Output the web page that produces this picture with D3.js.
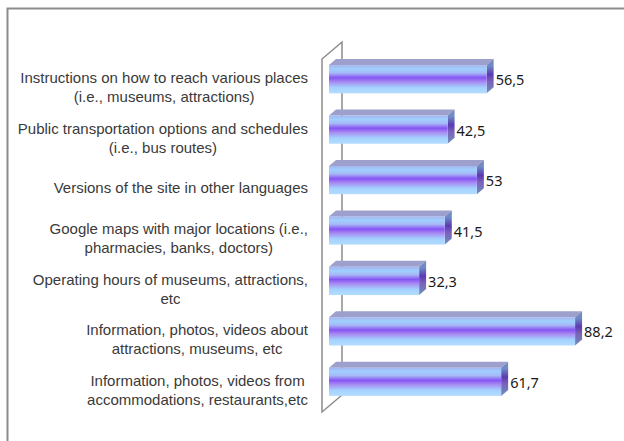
<!DOCTYPE html>
<html>
<head>
<meta charset="utf-8">
<script src="https://cdn.jsdelivr.net/npm/d3@7"></script>
<style>
  body { margin: 0; background: #fff; }
  svg { display: block; }
</style>
</head>
<body>
<div id="chart"></div>
<script>
// category labels (one entry per line) and values, top to bottom
var categories = [
  ["Instructions on how to reach various places", "(i.e., museums, attractions)"],
  ["Public transportation options and schedules", "(i.e., bus routes)"],
  ["Versions of the site in other languages"],
  ["Google maps with major locations (i.e.,", "pharmacies, banks, doctors)"],
  ["Operating hours of museums, attractions,", "etc"],
  ["Information, photos, videos about", "attractions, museums, etc"],
  ["Information, photos, videos from", "accommodations, restaurants,etc"]
];
var values = [56.5, 42.5, 53, 41.5, 32.3, 88.2, 61.7];
var ids = d3.range(categories.length);

var width = 624, height = 441;
var depthX = 7, depthY = -6;

var svg = d3.select("#chart")
  .append("svg")
    .attr("width", width)
    .attr("height", height);

var defs = svg.append("defs");

// front face gradient
var gFront = defs.append("linearGradient")
  .attr("id", "front").attr("x1", 0).attr("y1", 0).attr("x2", 0).attr("y2", 1);
[[0, "#a6b4ee"], [0.14, "#9fd0ff"], [0.28, "#a7b8f6"], [0.45, "#8654f4"], [0.6, "#a88cf2"],
 [0.8, "#a4d2ff"], [1, "#b4dcff"]].forEach(function(s) {
  gFront.append("stop").attr("offset", s[0]).attr("stop-color", s[1]);
});

// side face gradient
var gSide = defs.append("linearGradient")
  .attr("id", "side").attr("x1", 0).attr("y1", 0).attr("x2", 0).attr("y2", 1);
[[0, "#7a86c0"], [0.2, "#6e8cc4"], [0.45, "#5a3ab0"], [0.65, "#7a62bc"], [1, "#6f8fb8"]].forEach(function(s) {
  gSide.append("stop").attr("offset", s[0]).attr("stop-color", s[1]);
});

// frame
svg.append("path")
  .attr("d", "M7.5,441 L7.5,8.5 L624,8.5")
  .style("fill", "none")
  .style("stroke", "#8c8c8c")
  .style("stroke-width", 2);

// scales
var y = d3.scaleBand()
  .domain(ids)
  .range([54, 407])
  .paddingInner(0.44)
  .paddingOuter(0.22);

var x = d3.scaleLinear()
  .domain([0, 100])
  .range([329, 608]);

// side wall (category axis plane)
var wallTop = y.range()[0] + 5, wallBottom = y.range()[1] + 5;
var wx0 = 322, wx1 = 342, wdy = -17;
svg.append("path")
  .attr("d", "M" + wx0 + "," + wallBottom + " L" + wx0 + "," + wallTop +
             " L" + wx1 + "," + (wallTop + wdy) + " L" + wx1 + "," + (wallBottom + wdy) + " Z")
  .style("fill", "#fff")
  .style("stroke", "#8c8c8c")
  .style("stroke-width", 1.5);

// bars
var bars = svg.append("g")
  .selectAll("g")
  .data(ids)
  .enter()
  .append("g");

bars.append("path")   // top face
  .attr("d", function(i) {
    var x0 = x(0), x1 = x(values[i]), t = y(i);
    return "M" + x0 + "," + t + " L" + (x0 + depthX) + "," + (t + depthY) +
           " L" + (x1 + depthX) + "," + (t + depthY) + " L" + x1 + "," + t + " Z";
  })
  .style("fill", "#9d9fcc");

bars.append("path")   // side face
  .attr("d", function(i) {
    var x1 = x(values[i]), t = y(i), b = t + y.bandwidth();
    return "M" + x1 + "," + t + " L" + (x1 + depthX) + "," + (t + depthY) +
           " L" + (x1 + depthX) + "," + (b + depthY) + " L" + x1 + "," + b + " Z";
  })
  .style("fill", "url(#side)");

bars.append("rect")   // front face
  .attr("x", x(0))
  .attr("y", function(i) { return y(i); })
  .attr("width", function(i) { return x(values[i]) - x(0); })
  .attr("height", y.bandwidth())
  .style("fill", "url(#front)");

// value labels
svg.append("g")
  .selectAll("text")
  .data(ids)
  .enter()
  .append("text")
  .attr("x", function(i) { return x(values[i]) + depthX + 2; })
  .attr("y", function(i) { return y(i) + y.bandwidth() / 2 + 1; })
  .attr("dy", "0.35em")
  .style("font-family", "'Noto Sans', sans-serif")
  .style("font-size", "14.5px")
  .style("fill", "#1a1a1a")
  .text(function(i) { return String(values[i]).replace(".", ","); });

// category labels: block right-aligned, lines centred inside it
var labelRight = 308, lineH = 19;
var lab = svg.append("g")
  .selectAll("text")
  .data(ids)
  .enter()
  .append("text")
  .style("font-family", "'Liberation Sans', sans-serif")
  .style("font-size", "15px")
  .style("fill", "#3a3a3a")
  .attr("text-anchor", "middle");

lab.each(function(i) {
  var t = d3.select(this);
  var lines = categories[i];
  var mid = y(i) + y.bandwidth() / 2 + 8;
  lines.forEach(function(s, k) {
    t.append("tspan")
      .attr("y", mid + (k - (lines.length - 1) / 2) * lineH)
      .attr("dy", "0.36em")
      .text(s);
  });
  var w = 0;
  t.selectAll("tspan").each(function() { w = Math.max(w, this.getComputedTextLength()); });
  t.selectAll("tspan").attr("x", labelRight - w / 2);
});
</script>
</body>
</html>
